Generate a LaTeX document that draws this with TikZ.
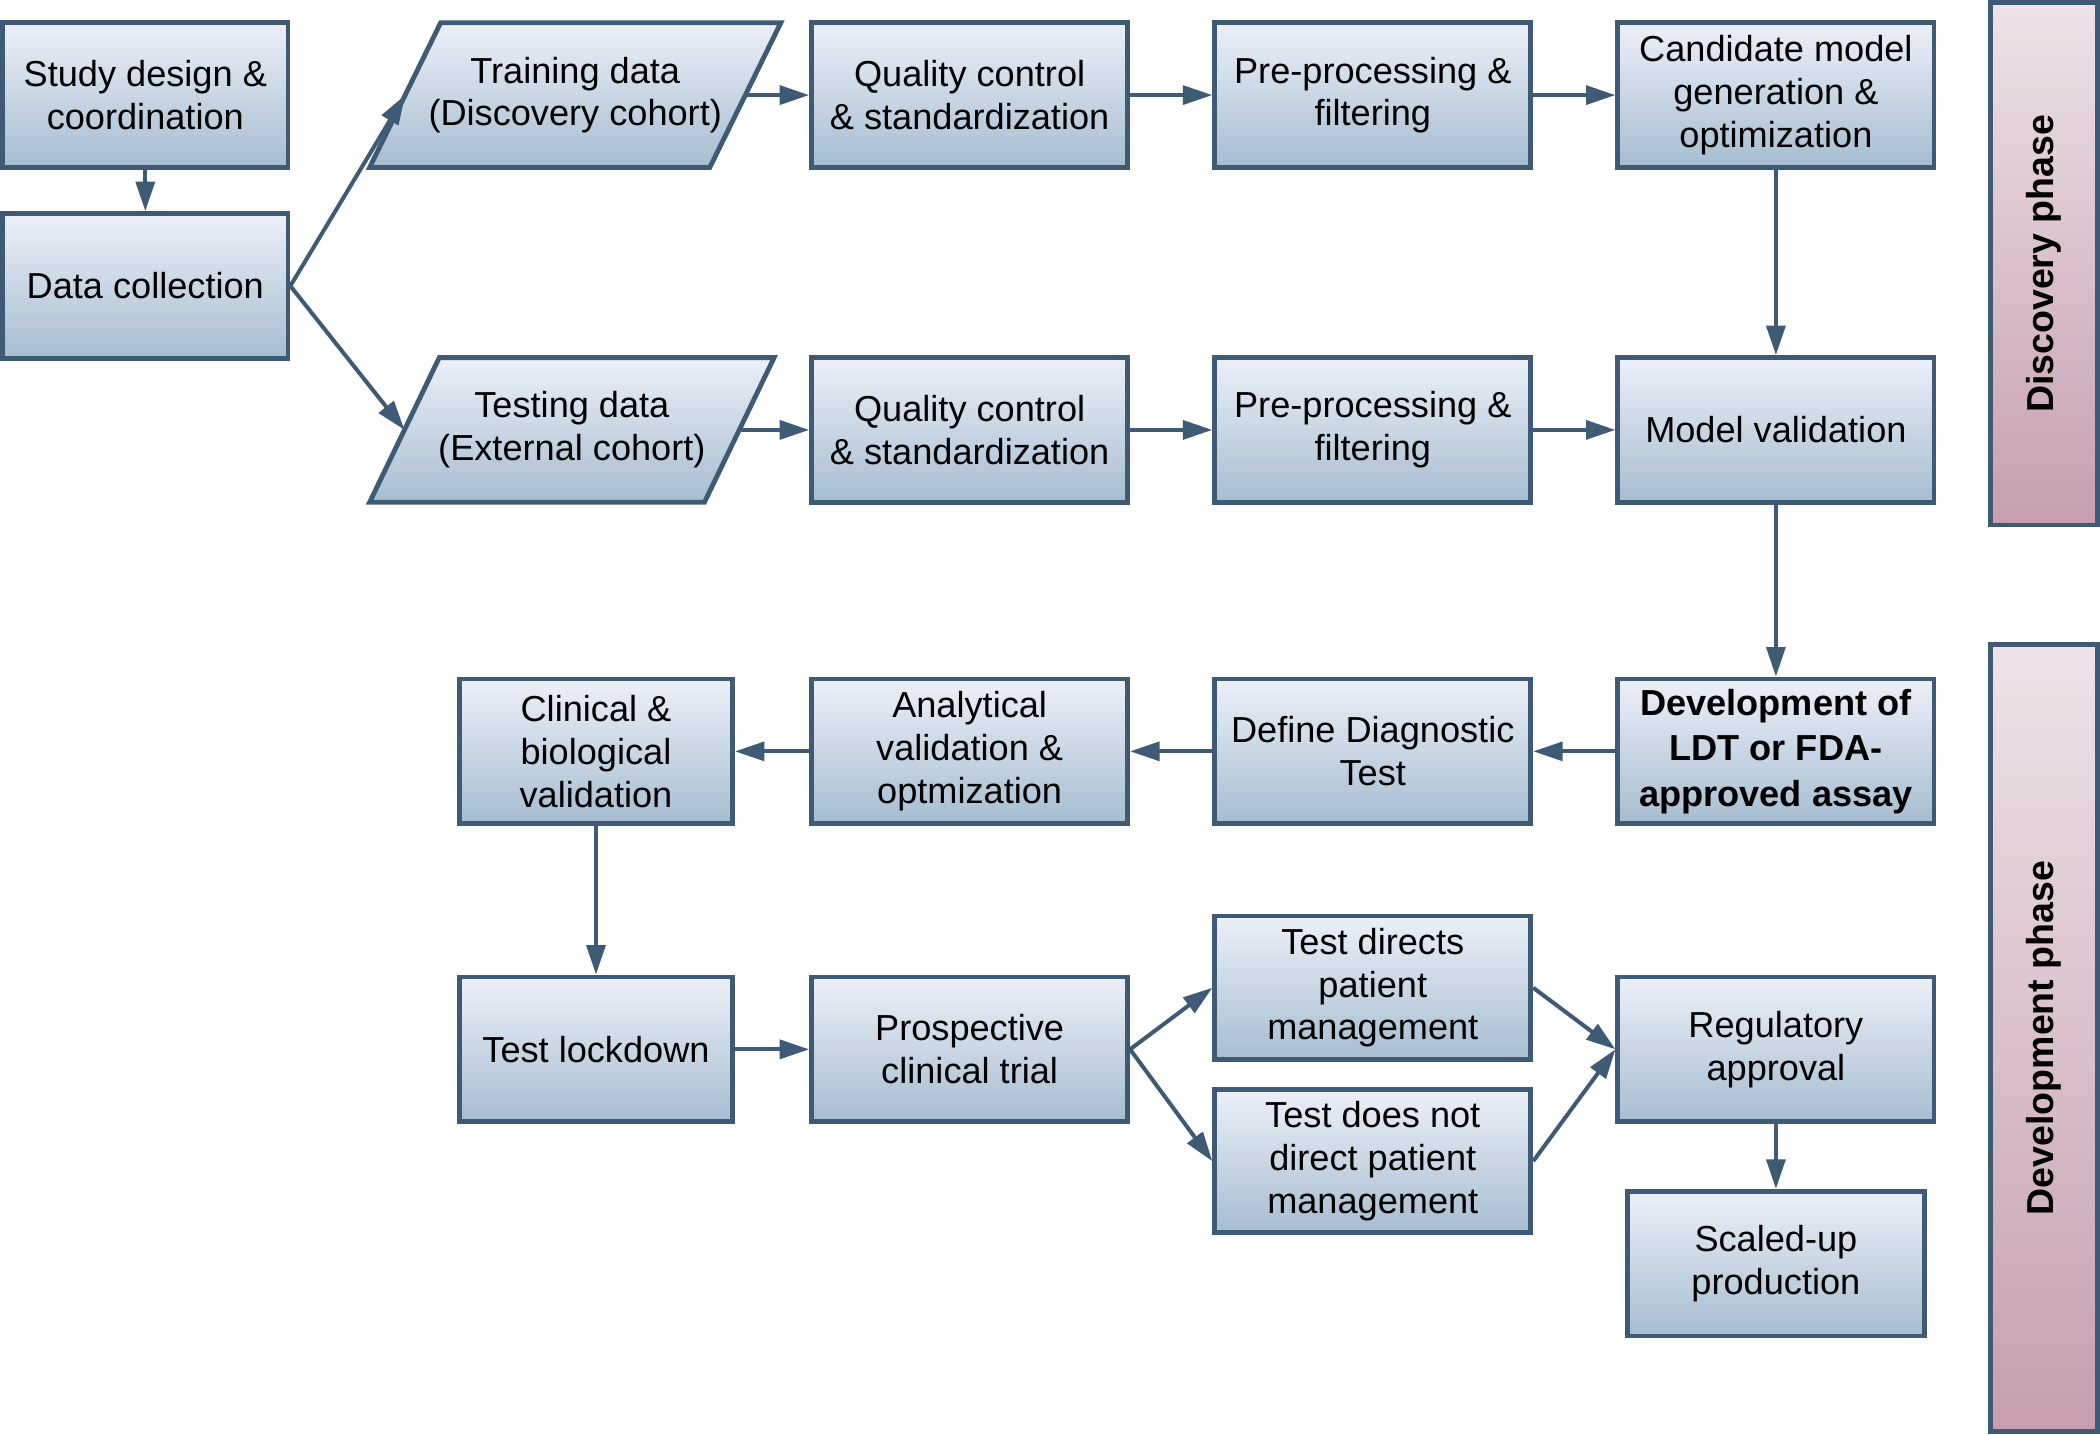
\documentclass[tikz,border=0pt]{standalone}
\usepackage{fontspec}
\setmainfont{Liberation Sans}
\usetikzlibrary{arrows.meta}
\pgfdeclarelayer{bg}
\pgfsetlayers{bg,main}
\definecolor{edgec}{RGB}{62,90,116}
\definecolor{boxtop}{RGB}{236,240,248}
\definecolor{boxbot}{RGB}{166,189,208}
\definecolor{phtop}{RGB}{237,227,233}
\definecolor{phbot}{RGB}{198,158,175}
\begin{document}
\begin{tikzpicture}[x=0.5pt,y=-0.5pt,
  boxfill/.style={draw=edgec, line width=1.8pt, top color=boxtop, bottom color=boxbot},
  box/.style={boxfill, minimum width=118pt, minimum height=54pt, inner sep=1pt, align=center,
    font=\fontsize{13.5}{16}\selectfont},
  paratext/.style={minimum width=127pt, minimum height=54pt, inner sep=1pt, outer sep=0pt,
    align=center, font=\fontsize{13.5}{16}\selectfont},
  phasebar/.style={draw=edgec, line width=1.8pt, top color=phtop, bottom color=phbot,
    minimum width=40pt, inner sep=0pt},
  phasetext/.style={font=\fontsize{14}{16}\selectfont\bfseries, inner sep=0pt},
  conn/.style={draw=edgec, line width=1.5pt, -{Triangle[length=11pt,width=7pt]}}
]
\useasboundingbox (0,0) rectangle (1568,1071);

% phase bars
\node[phasebar, minimum height=195pt,
  label={[phasetext,rotate=90]center:Discovery phase}] (disc) at (1526,197) {};
\node[phasebar, minimum height=294pt,
  label={[phasetext,rotate=90]center:Development phase}] (devp) at (1526,775) {};

% discovery
\node[box, minimum width=106.5pt] (study) at (108.5,71) {Study design \&\\coordination};
\node[box, minimum width=106.5pt] (dc) at (108.5,213.5) {Data collection};
\node[paratext] (train) at (429.5,71) {Training data\\(Discovery cohort)};
\node[paratext, minimum width=125pt] (test) at (427,321) {Testing data\\(External cohort)};
\begin{pgfonlayer}{bg}
\draw[boxfill] ([xshift=-13.25pt]train.south west) -- ([xshift=13.25pt]train.north west)
  -- ([xshift=13.25pt]train.north east) -- ([xshift=-13.25pt]train.south east) -- cycle;
\draw[boxfill] ([xshift=-13pt]test.south west) -- ([xshift=13pt]test.north west)
  -- ([xshift=13pt]test.north east) -- ([xshift=-13pt]test.south east) -- cycle;
\end{pgfonlayer}
\node[box] (qc1) at (724,71) {Quality control\\\& standardization};
\node[box] (pre1) at (1025,71) {Pre-processing \&\\filtering};
\node[box] (cand) at (1326,71) {Candidate model\\generation \&\\optimization};
\node[box] (qc2) at (724,321) {Quality control\\\& standardization};
\node[box] (pre2) at (1025,321) {Pre-processing \&\\filtering};
\node[box] (mv) at (1326,321) {Model validation};

% development
\node[box, font=\fontsize{13.5}{17}\selectfont\bfseries] (ldt) at (1326,561) {Development of\\LDT or FDA-\\approved assay};
\node[box] (def) at (1025,561) {Define Diagnostic\\Test};
\node[box] (ana) at (724,561) {Analytical\\validation \&\\optmization};
\node[box, minimum width=102pt] (clin) at (445,561) {Clinical \&\\biological\\validation};
\node[box, minimum width=102pt] (lock) at (445,783.5) {Test lockdown};
\node[box] (pros) at (724,783.5) {Prospective\\clinical trial};
\node[box, minimum height=53.5pt] (dir) at (1025,737.5) {Test directs\\patient\\management};
\node[box, minimum height=53.5pt] (ndir) at (1025,867) {Test does not\\direct patient\\management};
\node[box] (reg) at (1326,783.5) {Regulatory\\approval};
\node[box, minimum width=111pt] (scale) at (1326,943.5) {Scaled-up\\production};

% connectors
\draw[conn] (study) -- (dc);
\draw[conn] (dc.east) -- (train.west);
\draw[conn] (dc.east) -- (test.west);
\draw[conn] (train) -- (qc1);
\draw[conn] (qc1) -- (pre1);
\draw[conn] (pre1) -- (cand);
\draw[conn] (cand) -- (mv);
\draw[conn] (test) -- (qc2);
\draw[conn] (qc2) -- (pre2);
\draw[conn] (pre2) -- (mv);
\draw[conn] (mv) -- (ldt);
\draw[conn] (ldt) -- (def);
\draw[conn] (def) -- (ana);
\draw[conn] (ana) -- (clin);
\draw[conn] (clin) -- (lock);
\draw[conn] (lock) -- (pros);
\draw[conn] (pros.east) -- (dir.west);
\draw[conn] (pros.east) -- (ndir.west);
\draw[conn] (dir.east) -- (reg.west);
\draw[conn] (ndir.east) -- (reg.west);
\draw[conn] (reg) -- (scale);
\end{tikzpicture}
\end{document}
